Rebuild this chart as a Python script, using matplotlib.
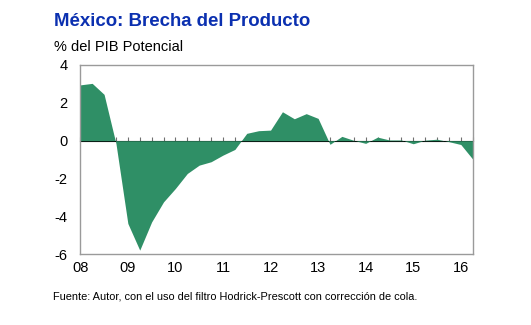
import numpy as np
import matplotlib.pyplot as plt

plt.rcParams['font.family'] = ['Liberation Sans', 'DejaVu Sans']

# Brecha del producto trimestral, 2008T1 - 2016T2 (% del PIB potencial)
trimestres = [f"{a}T{q}" for a in range(2008, 2017) for q in range(1, 5)][:34]
brecha = [2.95, 3.03, 2.45, -0.15, -4.37, -5.78, -4.29, -3.23, -2.52, -1.73,
          -1.29, -1.11, -0.76, -0.46, 0.39, 0.53, 0.56, 1.53, 1.16, 1.43,
          1.18, -0.19, 0.23, 0.02, -0.14, 0.19, 0.04, 0.04, -0.16, 0.03,
          0.08, -0.05, -0.20, -0.97]
etiquetas_anio = ["08", "09", "10", "11", "12", "13", "14", "15", "16"]

verde = "#2F8F66"
azul = "#0B30B0"
gris = "#9A9A9A"

x = np.arange(len(brecha))
y = np.array(brecha)

fig = plt.figure(figsize=(5.31, 3.25), dpi=100)
ax = fig.add_axes([0.1512, 0.2175, 0.739, 0.5825])

ax.fill_between(x, y, 0, color=verde, linewidth=0, interpolate=True)

ax.set_xlim(0, len(brecha) - 1)
ax.set_ylim(-6, 4)
ax.set_yticks(np.arange(-6, 5, 2))
ax.set_yticklabels([str(v) for v in range(-6, 5, 2)])
ax.tick_params(axis="y", length=0, pad=9, labelsize=10.5)

# años en el primer trimestre de cada uno
ax.set_xticks(x[::4])
ax.set_xticklabels(etiquetas_anio)
ax.tick_params(axis="x", length=0, pad=5, labelsize=10.5)

for s in ax.spines.values():
    s.set_color(gris)
    s.set_linewidth(1.0)

# eje en cero con marcas trimestrales
eje0 = ax.secondary_xaxis(0.6)
eje0.set_xticks(x)
eje0.set_xticklabels([])
eje0.tick_params(axis="x", direction="out", length=3, color="#707070", width=0.8)
eje0.spines["bottom"].set_color("#808080")
eje0.spines["bottom"].set_linewidth(1.0)

fig.text(0.102, 0.935, "México: Brecha del Producto", color=azul,
         fontsize=13.4, fontweight="bold", va="center", ha="left")
fig.text(0.102, 0.856, "% del PIB Potencial", color="black",
         fontsize=10.5, va="center", ha="left")
fig.text(0.1, 0.088,
         "Fuente: Autor, con el uso del filtro Hodrick-Prescott con corrección de cola.",
         color="black", fontsize=7.9, va="center", ha="left")

fig.savefig("out.png", dpi=100, facecolor="white")
